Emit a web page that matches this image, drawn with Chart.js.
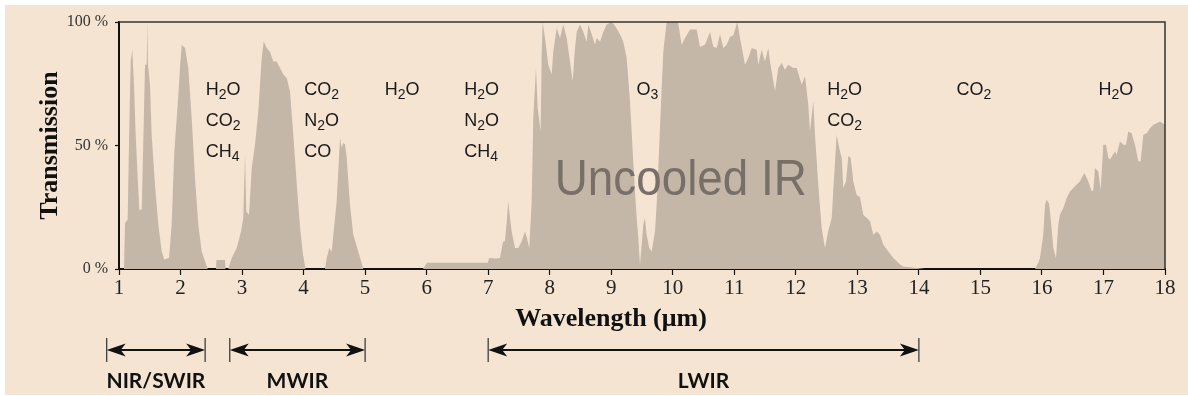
<!DOCTYPE html>
<html>
<head>
<meta charset="utf-8">
<script src="https://cdn.jsdelivr.net/npm/chart.js@4.4.1/dist/chart.umd.min.js"></script>
<style>
  html, body { margin: 0; padding: 0; background: #ffffff; }
  canvas { display: block; }
</style>
</head>
<body>
<canvas id="irChart" width="1188" height="396"></canvas>
<script>
// Atmospheric transmission spectrum (wavelength in µm, transmission in %)
const wavelength = [
  1.0, 1.081, 1.098, 1.141, 1.163, 1.190, 1.216, 1.244, 1.271, 1.304, 1.330, 1.369, 1.395, 1.423, 1.450,
  1.460, 1.471, 1.504, 1.531, 1.585, 1.639, 1.694, 1.736, 1.813, 1.856, 1.899, 1.954, 1.991, 2.019, 2.073,
  2.126, 2.182, 2.235, 2.289, 2.344, 2.398, 2.442, 2.576, 2.584, 2.723, 2.731, 2.776, 2.832, 2.913, 2.983,
  3.020, 3.048, 3.069, 3.113, 3.157, 3.210, 3.264, 3.319, 3.352, 3.400, 3.454, 3.508, 3.563, 3.617, 3.670,
  3.725, 3.779, 3.828, 3.893, 3.942, 3.990, 4.031,
  4.348, 4.376, 4.418, 4.457, 4.483, 4.538, 4.564, 4.592, 4.619, 4.645, 4.673, 4.701, 4.754, 4.808, 4.889, 4.970,
  5.941, 6.006, 6.997,
  7.013, 7.127, 7.192, 7.241, 7.273, 7.301, 7.327, 7.355, 7.382, 7.436, 7.490, 7.545, 7.598, 7.631, 7.668,
  7.707, 7.733, 7.777, 7.805, 7.853, 7.870, 7.886, 7.923, 7.977, 8.032, 8.058, 8.114, 8.167, 8.221, 8.276,
  8.330, 8.373, 8.411, 8.439, 8.492, 8.546, 8.601, 8.627, 8.682, 8.736, 8.763, 8.817, 8.871, 8.926, 9.007,
  9.061, 9.142, 9.196, 9.251, 9.305, 9.349, 9.386, 9.414, 9.440, 9.467, 9.495, 9.521, 9.548, 9.576, 9.618,
  9.657, 9.711, 9.738, 9.765, 9.792, 9.820, 9.846, 9.901, 10.085, 10.145, 10.199, 10.280, 10.389, 10.443, 10.524,
  10.606, 10.659, 10.714, 10.768, 10.822, 10.876, 10.930, 10.984, 11.049, 11.093, 11.174, 11.228, 11.283, 11.364, 11.390,
  11.445, 11.499, 11.553, 11.580, 11.662, 11.715, 11.770, 11.824, 11.878, 11.959, 12.014, 12.095, 12.149, 12.203, 12.230,
  12.284, 12.312, 12.365, 12.420, 12.474, 12.528, 12.583, 12.621, 12.664, 12.718, 12.746, 12.772, 12.816, 12.853, 12.892,
  12.934, 12.989, 13.043, 13.097, 13.152, 13.206, 13.259, 13.314, 13.368, 13.422, 13.503, 13.584, 13.639, 13.693, 13.747,
  13.937, 14.100,
  15.887, 15.941, 15.968, 16.022, 16.050, 16.077, 16.115, 16.142, 16.185, 16.228, 16.266, 16.293, 16.347, 16.402, 16.456,
  16.537, 16.618, 16.688, 16.753, 16.809, 16.835, 16.862, 16.916, 16.955, 16.997, 17.041, 17.079, 17.106, 17.187, 17.215,
  17.268, 17.322, 17.366, 17.403, 17.458, 17.512, 17.566, 17.605, 17.648, 17.702, 17.756, 17.809, 17.864, 17.918, 18.0
];
const transmission = [
  0, 0, 18.6, 20, 51.7, 84, 88.8, 74.6, 54.4, 36.8, 24, 24, 51.7, 82.7, 82.7,
  100, 82.7, 74.6, 54.4, 34, 18, 7.1, 3.8, 4.5, 18, 47.6, 66.5, 81.4, 90.8, 89.5,
  81.4, 61, 36.8, 18, 7.1, 3.1, 0, 0, 3.6, 3.6, 0, 0, 4.5, 8.5, 15.2,
  20.6, 46.3, 23.3, 22, 40.9, 50.3, 63.8, 85.4, 92.2, 89.5, 88, 84, 84, 81.4, 78.7,
  77.3, 72, 56, 33, 17, 6, 0,
  0, 4.5, 8.5, 7, 13.9, 27.4, 39.5, 53, 49, 51, 50.5, 45, 26, 13.9, 7.1, 0,
  0, 2.5, 2.5,
  4.5, 4.3, 4.5, 11, 11.2, 19, 27.4, 20.6, 15.2, 8.5, 8.5, 11.2, 15.2, 12.5, 8.5,
  27.4, 61, 81.4, 65, 55.7, 88, 100, 93.5, 82.7, 78.7, 88, 97.6, 93.5, 99, 93.5,
  84, 76, 89.5, 96, 99, 96, 92, 99, 95, 90.8, 93.5, 92, 96, 99, 100,
  98.5, 95, 92, 85.4, 68, 47.6, 31.4, 20.6, 12.5, 1.7, 9.8, 18, 20.6, 13.9, 8.5,
  7.1, 15.2, 26, 40.9, 57, 73.3, 88, 100, 100, 90.8, 93.5, 97, 97, 90, 90.8,
  96, 90, 89.5, 95, 89.5, 90.8, 94, 94.6, 100, 93.5, 82.7, 85.4, 89.5, 88.8, 82.7,
  88.8, 84, 89.5, 84, 72, 81.4, 83.4, 80.7, 82.7, 81.4, 81.4, 74.6, 78, 66.5, 55.7,
  68, 54.4, 34, 16.6, 8.5, 15.4, 20.6, 36.8, 54.4, 47.6, 45, 32.8, 35.5, 45.6, 45,
  35.5, 30, 29, 22, 20.6, 19.3, 13.9, 15.2, 13.9, 9.8, 7.1, 4.5, 3.1, 1.8, 1,
  0.5, 0,
  0, 2.5, 4.5, 14, 26, 28, 26.5, 20.6, 8.5, 4.5, 18, 22, 24.7, 28.7, 31.4,
  33.5, 35.5, 38.9, 35.5, 31.4, 32, 40.9, 39.5, 32, 50.3, 50.3, 45, 44.3, 47.6, 46.3,
  51.7, 50.3, 50.3, 55.7, 55, 50.3, 43.6, 43.6, 54.4, 55, 57, 58.4, 59, 59.7, 58.4
];

// Absorbing molecules ("_" marks a subscript digit) and the wavelength where each column starts
const absorberAt = [2.41, 4.01, 5.32, 6.61, 9.41, 12.51, 14.61, 16.92];
const absorberNames = [
  ['H_2O', 'CO_2', 'CH_4'],
  ['CO_2', 'N_2O', 'CO'],
  ['H_2O'],
  ['H_2O', 'N_2O', 'CH_4'],
  ['O_3'],
  ['H_2O', 'CO_2'],
  ['CO_2'],
  ['H_2O']
];

// Spectral bands drawn as arrows under the axis (µm)
const bandNames = ['NIR/SWIR', 'MWIR', 'LWIR'];
const bandStart = [0.8, 2.8, 7];
const bandEnd = [2.4, 5, 14];

const yTickValues = [0, 50, 100];

const points = wavelength.map((w, i) => ({ x: w, y: transmission[i] }));

function drawFormula(ctx, text, x, y) {
  let cx = x;
  for (let i = 0; i < text.length; i++) {
    let ch = text[i];
    let sub = false;
    if (ch === '_') { ch = text[++i]; sub = true; }
    ctx.font = sub ? '14px "Liberation Sans", Arial, sans-serif' : '18px "Liberation Sans", Arial, sans-serif';
    ctx.fillText(ch, cx, sub ? y + 4 : y);
    cx += ctx.measureText(ch).width;
  }
}

function drawArrowHead(ctx, tipX, y, dir) {
  // dir = 1 points right, -1 points left
  ctx.beginPath();
  ctx.moveTo(tipX, y);
  ctx.lineTo(tipX - dir * 19, y - 6.5);
  ctx.lineTo(tipX - dir * 14, y);
  ctx.lineTo(tipX - dir * 19, y + 6.5);
  ctx.closePath();
  ctx.fill();
}

const decorations = {
  id: 'decorations',
  beforeDraw(chart) {
    const ctx = chart.ctx;
    ctx.save();
    ctx.fillStyle = '#ffffff';
    ctx.fillRect(0, 0, chart.width, chart.height);
    ctx.fillStyle = '#f5e4d2';
    ctx.fillRect(5, 5, chart.width - 5, chart.height - 6);
    ctx.restore();
  },
  afterDraw(chart) {
    const ctx = chart.ctx;
    const area = chart.chartArea;
    const xs = chart.scales.x;
    const ys = chart.scales.y;
    ctx.save();

    // top and right frame lines
    ctx.strokeStyle = '#333333';
    ctx.lineWidth = 1.5;
    ctx.beginPath();
    ctx.moveTo(area.left, area.top);
    ctx.lineTo(area.right, area.top);
    ctx.lineTo(area.right, area.bottom);
    ctx.stroke();

    // watermark label
    ctx.fillStyle = '#787068';
    ctx.font = '50px "Liberation Sans", Arial, sans-serif';
    ctx.textAlign = 'center';
    ctx.textBaseline = 'alphabetic';
    ctx.fillText('Uncooled IR', xs.getPixelForValue(10.13), ys.getPixelForValue(30), 252);

    // molecule labels
    ctx.fillStyle = '#1a1a1a';
    ctx.textAlign = 'left';
    const firstRow = ys.getPixelForValue(70.5);
    absorberNames.forEach((rows, c) => {
      const x = xs.getPixelForValue(absorberAt[c]);
      rows.forEach((name, r) => drawFormula(ctx, name, x, firstRow + r * 31));
    });

    // axis titles
    ctx.fillStyle = '#111111';
    ctx.font = 'bold 26px "Liberation Serif", "Times New Roman", serif';
    ctx.textAlign = 'center';
    ctx.textBaseline = 'middle';
    ctx.fillText('Wavelength (\u03bcm)', 611, 319);
    ctx.save();
    ctx.translate(50, (area.top + area.bottom) / 2);
    ctx.rotate(-Math.PI / 2);
    ctx.fillText('Transmission', 0, 0);
    ctx.restore();

    // band arrows
    const arrowY = 350;
    ctx.strokeStyle = '#111111';
    ctx.fillStyle = '#111111';
    bandNames.forEach((name, i) => {
      const x1 = xs.getPixelForValue(bandStart[i]);
      const x2 = xs.getPixelForValue(bandEnd[i]);
      ctx.lineWidth = 2;
      ctx.beginPath();
      ctx.moveTo(x1 + 10, arrowY);
      ctx.lineTo(x2 - 10, arrowY);
      ctx.stroke();
      drawArrowHead(ctx, x1, arrowY, -1);
      drawArrowHead(ctx, x2, arrowY, 1);
      ctx.lineWidth = 1.2;
      ctx.strokeStyle = '#333333';
      ctx.beginPath();
      ctx.moveTo(x1, arrowY - 12);
      ctx.lineTo(x1, arrowY + 12);
      ctx.moveTo(x2, arrowY - 12);
      ctx.lineTo(x2, arrowY + 12);
      ctx.stroke();
      ctx.strokeStyle = '#111111';
      ctx.font = 'bold 21px Lato, "Open Sans", sans-serif';
      ctx.textAlign = 'center';
      ctx.textBaseline = 'alphabetic';
      ctx.fillText(name, (x1 + x2) / 2, 388);
    });

    ctx.restore();
  }
};

const ctx = document.getElementById('irChart').getContext('2d');
const irChart = new Chart(ctx, {
  type: 'line',
  data: {
    datasets: [{
      data: points,
      fill: 'origin',
      backgroundColor: '#c4b7a8',
      borderWidth: 0,
      pointRadius: 0,
      tension: 0
    }]
  },
  options: {
    responsive: false,
    animation: false,
    layout: { padding: { top: 22, right: 23, left: 0, bottom: 0 } },
    plugins: {
      legend: { display: false },
      tooltip: { enabled: false }
    },
    scales: {
      x: {
        type: 'linear',
        z: 1,
        min: 1,
        max: 18,
        afterFit: (scale) => { scale.height = 127; },
        ticks: {
          stepSize: 1,
          padding: 1,
          color: '#222222',
          font: { family: '"Liberation Serif", "Times New Roman", serif', size: 21 },
          maxRotation: 0
        },
        grid: { drawOnChartArea: false, drawTicks: true, tickLength: 6, tickColor: '#111111', tickWidth: 1.2 },
        border: { display: true, color: '#111111', width: 2 }
      },
      y: {
        z: 1,
        min: 0,
        max: 100,
        afterFit: (scale) => { scale.width = 119; },
        afterBuildTicks: (scale) => { scale.ticks = yTickValues.map(v => ({ value: v })); },
        ticks: {
          padding: 7,
          color: '#333333',
          font: { family: '"Liberation Serif", "Times New Roman", serif', size: 16 },
          callback: (v) => v + ' %'
        },
        grid: { drawOnChartArea: false, drawTicks: true, tickLength: 4, tickColor: '#111111', tickWidth: 1.2 },
        border: { display: true, color: '#111111', width: 2 }
      }
    }
  },
  plugins: [decorations]
});
</script>
</body>
</html>
